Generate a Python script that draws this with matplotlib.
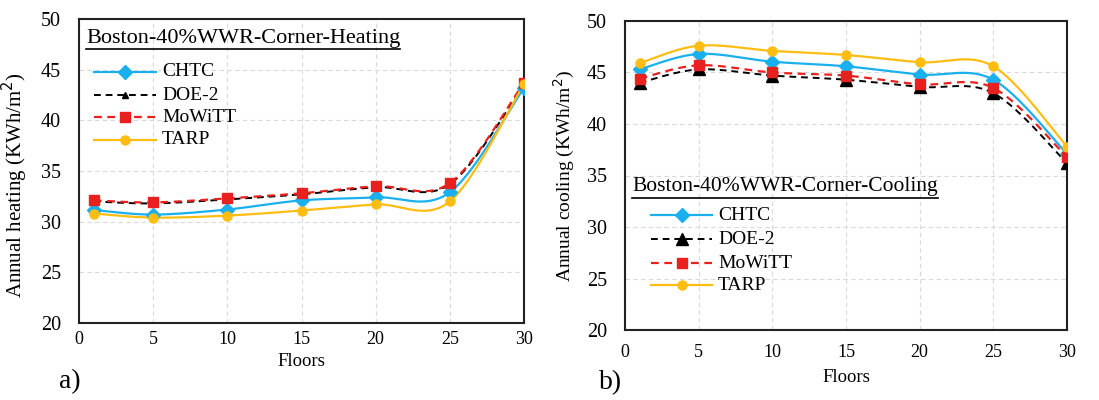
import numpy as np
import matplotlib
matplotlib.use("Agg")
import matplotlib.pyplot as plt
from matplotlib.lines import Line2D

plt.rcParams['font.family'] = ['Liberation Serif', 'DejaVu Serif']

floors = [1, 5, 10, 15, 20, 25, 30]

# Annual heating (KWh/m2)
heat_chtc = [31.15, 30.7, 31.2, 32.1, 32.4, 32.9, 43.2]
heat_doe2 = [32.0, 31.8, 32.2, 32.7, 33.4, 33.7, 43.5]
heat_mowitt = [32.1, 31.9, 32.3, 32.8, 33.5, 33.8, 43.7]
heat_tarp = [30.8, 30.4, 30.6, 31.1, 31.7, 32.0, 43.6]

# Annual cooling (KWh/m2)
cool_chtc = [45.3, 46.8, 46.05, 45.6, 44.8, 44.3, 37.1]
cool_doe2 = [44.0, 45.3, 44.7, 44.3, 43.6, 43.0, 36.2]
cool_mowitt = [44.4, 45.7, 45.0, 44.7, 43.85, 43.5, 36.8]
cool_tarp = [45.9, 47.6, 47.1, 46.7, 46.0, 45.6, 37.8]

series_names = ["CHTC", "DOE-2", "MoWiTT", "TARP"]
x_ticks = [0, 5, 10, 15, 20, 25, 30]
y_ticks = [20, 25, 30, 35, 40, 45, 50]


def smooth(xs, ys, n=40):
    """Bezier smoothing through every point (spreadsheet-style smooth line)."""
    p = np.column_stack([xs, ys]).astype(float)
    ext = np.vstack([p[0], p, p[-1]])
    out = []
    t = np.linspace(0, 1, n)[:, None]
    for i in range(len(p) - 1):
        p0, p1, p2, p3 = ext[i], ext[i + 1], ext[i + 2], ext[i + 3]
        c1 = p1 + (p2 - p0) / 6.0
        c2 = p2 - (p3 - p1) / 6.0
        seg = ((1 - t) ** 3) * p1 + 3 * ((1 - t) ** 2) * t * c1 \
            + 3 * (1 - t) * t ** 2 * c2 + t ** 3 * p2
        out.append(seg if i == 0 else seg[1:])
    s = np.vstack(out)
    return s[:, 0], s[:, 1]


styles = {
    "CHTC": dict(color="#1AB0EE", ls="-", marker="D", ms=7.5, lw=1.6),
    "DOE-2": dict(color="black", ls=(0, (3.5, 2.5)), marker="^", ms=6, lw=1.4),
    "MoWiTT": dict(color="#E8201E", ls=(0, (3.5, 2.5)), marker="s", ms=6.5, lw=1.6),
    "TARP": dict(color="#FFBD12", ls="-", marker="o", ms=6.5, lw=1.6),
}

fig = plt.figure(figsize=(10.99, 4.0), dpi=100)
W, H = 1099, 400


def make_axes(l, r, t, b):
    return fig.add_axes([l / W, 1 - b / H, (r - l) / W, (b - t) / H])


def draw_panel(ax, data, tri_ms, ylabel, ylabel_fs, ylabel_pos, title, title_fs, title_xy,
               leg_y, leg_x, letter, letter_xy, floors_y, floors_fs, xpad):
    for name, ys in zip(series_names, data):
        st = dict(styles[name])
        if name == "DOE-2":
            st["ms"] = tri_ms
        sx, sy = smooth(floors, ys)
        ax.plot(sx, sy, color=st["color"], ls=st["ls"], lw=st["lw"], zorder=3)
        ax.plot(floors, ys, ls="none", marker=st["marker"], ms=st["ms"],
                color=st["color"], zorder=4)
    ax.set_xlim(0, 30)
    ax.set_ylim(20, 50)
    ax.set_xticks(x_ticks)
    ax.set_yticks(y_ticks)
    ax.tick_params(axis="y", length=0, labelsize=14.5, pad=13)
    ax.tick_params(axis="x", length=0, labelsize=13, pad=xpad)
    ax.grid(True, color="#D9D9D9", ls=(0, (4, 3)), lw=0.8)
    for sp in ax.spines.values():
        sp.set_linewidth(1.5)
        sp.set_color("#222222")
    ax.set_ylabel(ylabel, fontsize=ylabel_fs)
    ax.yaxis.set_label_coords(*ylabel_pos)

    # title with underline
    tx, ty = title_xy
    txt = fig.text(tx / W, 1 - ty / H, title, fontsize=title_fs, va="center", ha="left")
    fig.canvas.draw()
    bb = txt.get_window_extent()
    yline = bb.y0 - 1
    fig.add_artist(Line2D([bb.x0 / W, bb.x1 / W], [yline / H, yline / H],
                          color="black", lw=1.2))

    # legend entries
    x0, x1, xt = leg_x
    for name, yy in zip(series_names, leg_y):
        st = dict(styles[name])
        if name == "DOE-2":
            st["ms"] = tri_ms
        fy = 1 - yy / H
        fig.add_artist(Line2D([x0 / W, x1 / W], [fy, fy], color=st["color"],
                              ls=st["ls"], lw=st["lw"]))
        fig.add_artist(Line2D([(x0 + x1) / 2 / W], [fy], color=st["color"],
                              marker=st["marker"], ms=st["ms"], ls="none"))
        fig.text(xt / W, fy, name, fontsize=14, va="center", ha="left")

    fig.text(letter_xy[0] / W, 1 - letter_xy[1] / H, letter, fontsize=20,
             va="center", ha="left")
    cx = (ax.get_position().x0 + ax.get_position().x1) / 2
    fig.text(cx, 1 - floors_y / H, "Floors", fontsize=floors_fs, va="center", ha="center")


ax1 = make_axes(79, 524, 19, 323)
ax2 = make_axes(625, 1067, 21, 330)

draw_panel(ax1, [heat_chtc, heat_doe2, heat_mowitt, heat_tarp], 5,
           "Annual heating (KWh/m$^2$)", 15, (-0.11, 0.455),
           "Boston-40%WWR-Corner-Heating", 16,
           (86, 38), [72, 95, 117, 140], (94, 156, 162), "a)", (59, 382), 362, 13.5, 6)
draw_panel(ax2, [cool_chtc, cool_doe2, cool_mowitt, cool_tarp], 8,
           "Annual cooling (KWh/m$^2$)", 14, (-0.108, 0.5),
           "Boston-40%WWR-Corner-Cooling", 15.5,
           (632, 187), [215, 239, 263, 285], (651, 712, 718), "b)", (599, 383), 377, 13.5, 10)

fig.savefig("out.png", dpi=100)
